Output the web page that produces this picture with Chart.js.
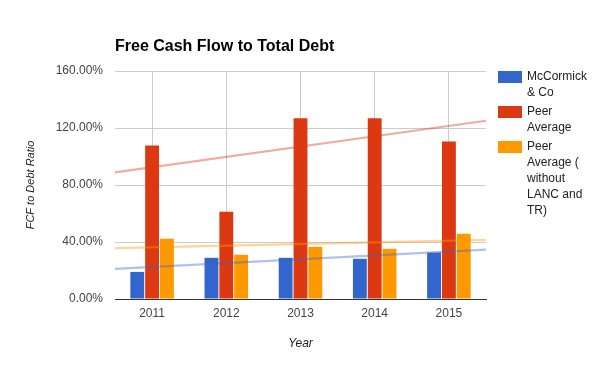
<!DOCTYPE html>
<html>
<head>
<meta charset="utf-8">
<script src="https://cdn.jsdelivr.net/npm/chart.js@4/dist/chart.umd.min.js"></script>
<style>
  html, body { margin: 0; padding: 0; background: #fff; }
  #wrap { width: 600px; height: 371px; position: relative; }
</style>
</head>
<body>
<div id="wrap"><canvas id="c" width="600" height="371"></canvas></div>
<script>
// ---- data ----
const chartTitle = 'Free Cash Flow to Total Debt';
const xAxisTitle = 'Year';
const yAxisTitle = 'FCF to Debt Ratio';
const categories = ['2011', '2012', '2013', '2014', '2015'];
const seriesNames = ['McCormick & Co', 'Peer Average', 'Peer Average ( without LANC and TR)'];
const mccormick = [19.0, 28.9, 28.9, 28.2, 32.6];
const peerAverage = [107.7, 61.3, 126.8, 126.8, 110.6];
const peerAverageExcl = [42.3, 31.0, 36.6, 35.2, 45.8];
const yTickValues = [0, 40, 80, 120, 160];
// trendline end values (at left and right edge of plot)
const trendMcCormick = [21.1, 34.7];
const trendPeer = [88.9, 125.1];
const trendPeerExcl = [35.7, 41.5];

const seriesColors = ['#3366cc', '#dc3912', '#ff9900'];
const trendColors = ['rgba(51,102,204,0.4)', 'rgba(220,57,18,0.42)', 'rgba(255,153,0,0.42)'];
const FONT = "'Liberation Sans', Arial, sans-serif";

const xMin = -0.5, xMax = categories.length - 0.5;
const trendX = [xMin, xMax];
function trendPoints(arr) { return arr.map((v, i) => ({ x: trendX[i], y: v })); }
function barPoints(arr) { return arr.map((v, i) => ({ x: i, y: v })); }

const barSeries = [mccormick, peerAverage, peerAverageExcl];
const trendSeries = [trendMcCormick, trendPeer, trendPeerExcl];

const datasets = [];
barSeries.forEach((d, i) => {
  datasets.push({
    type: 'bar', label: seriesNames[i], data: barPoints(d),
    backgroundColor: seriesColors[i], borderWidth: 0,
    categoryPercentage: 0.6, barPercentage: 0.935, order: 2
  });
});
trendSeries.forEach((d, i) => {
  datasets.push({
    type: 'line', label: seriesNames[i] + ' trend', data: trendPoints(d),
    borderColor: trendColors[i], borderWidth: 2.2,
    pointRadius: 0, tension: 0, fill: false, order: 1
  });
});

const customDraw = {
  id: 'customDraw',
  afterDraw(chart) {
    const ctx = chart.ctx;
    ctx.save();
    // title
    ctx.fillStyle = '#000';
    ctx.font = 'bold 16px ' + FONT;
    ctx.textAlign = 'left';
    ctx.textBaseline = 'alphabetic';
    ctx.fillText(chartTitle, 115, 51);
    // legend
    ctx.font = '12px ' + FONT;
    ctx.textBaseline = 'middle';
    const maxW = 64;
    let y = 77;
    barSeries.forEach((d, i) => {
      const words = seriesNames[i].split(' ');
      const lines = [];
      let cur = '';
      words.forEach(w => {
        const t = cur ? cur + ' ' + w : w;
        if (cur && ctx.measureText(t).width > maxW) { lines.push(cur); cur = w; }
        else cur = t;
      });
      if (cur) lines.push(cur);
      ctx.fillStyle = seriesColors[i];
      ctx.fillRect(498, Math.round(y - 6), 24, 12);
      ctx.fillStyle = '#222';
      lines.forEach(l => { ctx.fillText(l, 527, y); y += 16; });
      y += 2.8;
    });
    ctx.restore();
  }
};

new Chart(document.getElementById('c'), {
  type: 'bar',
  data: { datasets: datasets },
  options: {
    responsive: false,
    animation: false,
    devicePixelRatio: 1,
    layout: { padding: { left: 0, right: 114, top: 71, bottom: 0 } },
    plugins: { legend: { display: false }, tooltip: { enabled: false }, title: { display: false } },
    scales: {
      x: {
        type: 'linear',
        min: xMin, max: xMax,
        offset: false,
        afterBuildTicks(s) { s.ticks = categories.map((c, i) => ({ value: i })); },
        grid: { offset: false, color: '#cccccc', drawTicks: false },
        border: { color: '#333333', width: 1 },
        ticks: { color: '#444', font: { family: FONT, size: 12 }, padding: 7, callback: v => categories[Math.round(v)] },
        title: { display: true, text: xAxisTitle, color: '#222', font: { family: FONT, size: 12, style: 'italic' }, padding: { top: 0, bottom: 20 } },
        afterFit(s) { s.height = 72; }
      },
      y: {
        min: yTickValues[0], max: yTickValues[yTickValues.length - 1],
        afterBuildTicks(s) { s.ticks = yTickValues.map(v => ({ value: v })); },
        grid: { color: c => (c.tick && c.tick.value === 0 ? '#333333' : '#cccccc'), drawTicks: false },
        border: { display: false },
        ticks: { color: '#444', font: { family: FONT, size: 12 }, padding: 12, callback: v => v.toFixed(2) + '%' },
        title: { display: true, text: yAxisTitle, color: '#222', font: { family: FONT, size: 11, style: 'italic' }, padding: { top: 24, bottom: 0 } },
        afterFit(s) { s.width = 115; }
      }
    }
  },
  plugins: [customDraw]
});
</script>
</body>
</html>
